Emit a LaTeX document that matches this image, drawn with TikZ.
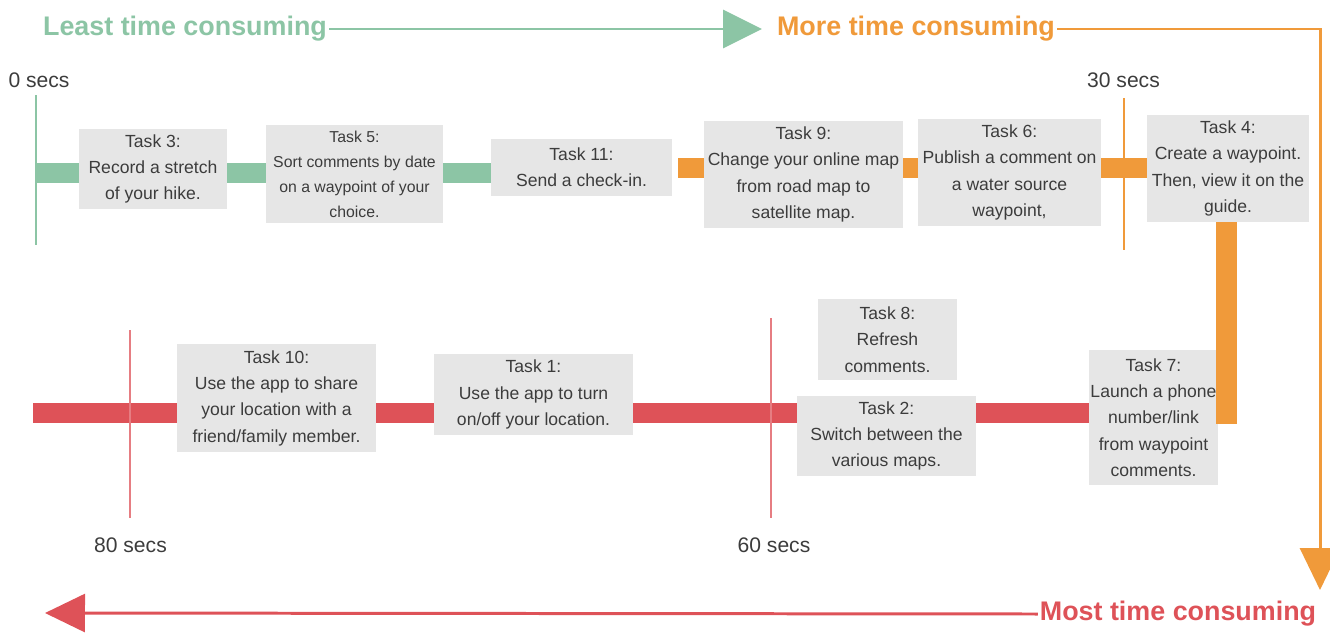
\documentclass[tikz,border=0pt]{standalone}
\usepackage{fontspec}
\setmainfont{Liberation Sans}
\usetikzlibrary{arrows.meta, backgrounds}
\definecolor{leastGreen}{RGB}{140,197,165}
\definecolor{moreOrange}{RGB}{240,154,58}
\definecolor{mostRed}{RGB}{222,82,88}
\definecolor{boxGray}{RGB}{230,230,230}
\definecolor{textGray}{RGB}{60,60,60}

\tikzset{
  task/.style={fill=boxGray, text=textGray, align=center, inner sep=0pt,
    font=\fontsize{10}{15}\selectfont},
  head/.style={font=\bfseries\fontsize{15.3}{18}\selectfont, inner sep=1pt},
  secs/.style={text=textGray, font=\fontsize{12}{14}\selectfont, inner sep=0pt},
  bar/.style={line width=0.4cm},
  tick/.style={line width=1.7pt},
  scale arrow/.style={line width=1.7pt}
}

\begin{document}
\begin{tikzpicture}[x=0.02cm, y=-0.02cm]
    \useasboundingbox (0,0) rectangle (1330,633);

    % Escala de tiempo (titulos)
    \node[head, text=leastGreen] (least) at (185,29) {Least time consuming};
    \node[head, text=moreOrange] (more) at (916,29) {More time consuming};
    \node[head, text=mostRed] (most) at (1178,614) {Most time consuming};
    \coordinate (down) at (1320,590);
    \coordinate (back) at (45,613);
    \draw[scale arrow, leastGreen, -{Triangle[length=0.78cm, width=0.76cm]}, shorten >=0.26cm] (least.east) -- (more.west);
    \draw[scale arrow, moreOrange, -{Triangle[length=0.84cm, width=0.8cm]}] (more.east) -| (down);
    \draw[scale arrow, mostRed, -{Triangle[length=0.8cm, width=0.76cm]}] (most.west) -- (back);

    % Fila superior
    \node[task, minimum width=2.96cm, minimum height=1.6cm] (t3) at (153,169) {Task 3:\\Record a stretch\\of your hike.};
    \node[task, minimum width=3.54cm, minimum height=1.96cm, font=\fontsize{9}{14.2}\selectfont] (t5) at (354.5,174) {Task 5:\\Sort comments by date\\on a waypoint of your\\choice.};
    \node[task, minimum width=3.62cm, minimum height=1.14cm] (t11) at (581.5,167.5) {Task 11:\\Send a check-in.};
    \node[task, minimum width=3.98cm, minimum height=2.14cm] (t9) at (803.5,174.5) {Task 9:\\Change your online map\\from road map to\\satellite map.};
    \node[task, minimum width=3.66cm, minimum height=2.14cm] (t6) at (1009.5,172.5) {Task 6:\\Publish a comment on\\a water source\\waypoint,};
    \node[task, minimum width=3.24cm, minimum height=2.14cm] (t4) at (1228,168.5) {Task 4:\\Create a waypoint.\\Then, view it on the\\guide.};

    % Fila inferior
    \node[task, minimum width=3.98cm, minimum height=2.16cm] (t10) at (276.5,398) {Task 10:\\Use the app to share\\your location with a\\friend/family member.};
    \node[task, minimum width=3.98cm, minimum height=1.62cm] (t1) at (533.5,394.5) {Task 1:\\Use the app to turn\\on/off your location.};
    \node[task, minimum width=2.78cm, minimum height=1.62cm] (t8) at (887.5,339.5) {Task 8:\\Refresh\\comments.};
    \node[task, minimum width=3.58cm, minimum height=1.6cm] (t2) at (886.5,436) {Task 2:\\Switch between the\\various maps.};
    \node[task, minimum width=2.58cm, minimum height=2.7cm] (t7) at (1153.5,417.5) {Task 7:\\Launch a phone\\number/link\\from waypoint\\comments.};

    % Barras (detras de las cajas)
    \coordinate (gb) at (36,173);
    \coordinate (ob) at (0,168);
    \coordinate (rb) at (33,413);
    \begin{scope}[on background layer]
        \draw[bar, leastGreen] (gb) -- (t11.west |- gb);
        \draw[bar, moreOrange, shorten <=0.12cm] (t11.east |- ob) -- (t9.west |- ob);
        \draw[bar, moreOrange] (t9.east |- ob) -- (t6.west |- ob);
        \draw[bar, moreOrange] (t6.east |- ob) -- (t4.west |- ob);
        \draw[bar, mostRed] (rb) -- (t7.west |- rb);
    \end{scope}
    \draw[line width=0.42cm, moreOrange] ([xshift=-0.03cm]t4.south) -- ([xshift=-0.03cm]t4.south |- 0,424);

    % Marcas de segundos
    \node[secs] (s0) at (39,80) {0 secs};
    \node[secs] (s30) at (1123.5,80) {30 secs};
    \node[secs] (s80) at (130.5,545) {80 secs};
    \node[secs] (s60) at (774,545) {60 secs};
    \draw[tick, leastGreen] (36,95) -- (36,245);
    \draw[tick, moreOrange, line width=1.3pt] (1124,98) -- (1124,250);
    \draw[tick, mostRed!75] (130,330) -- (130,518);
    \draw[tick, mostRed!75] (771,318) -- (771,518);
\end{tikzpicture}
\end{document}
